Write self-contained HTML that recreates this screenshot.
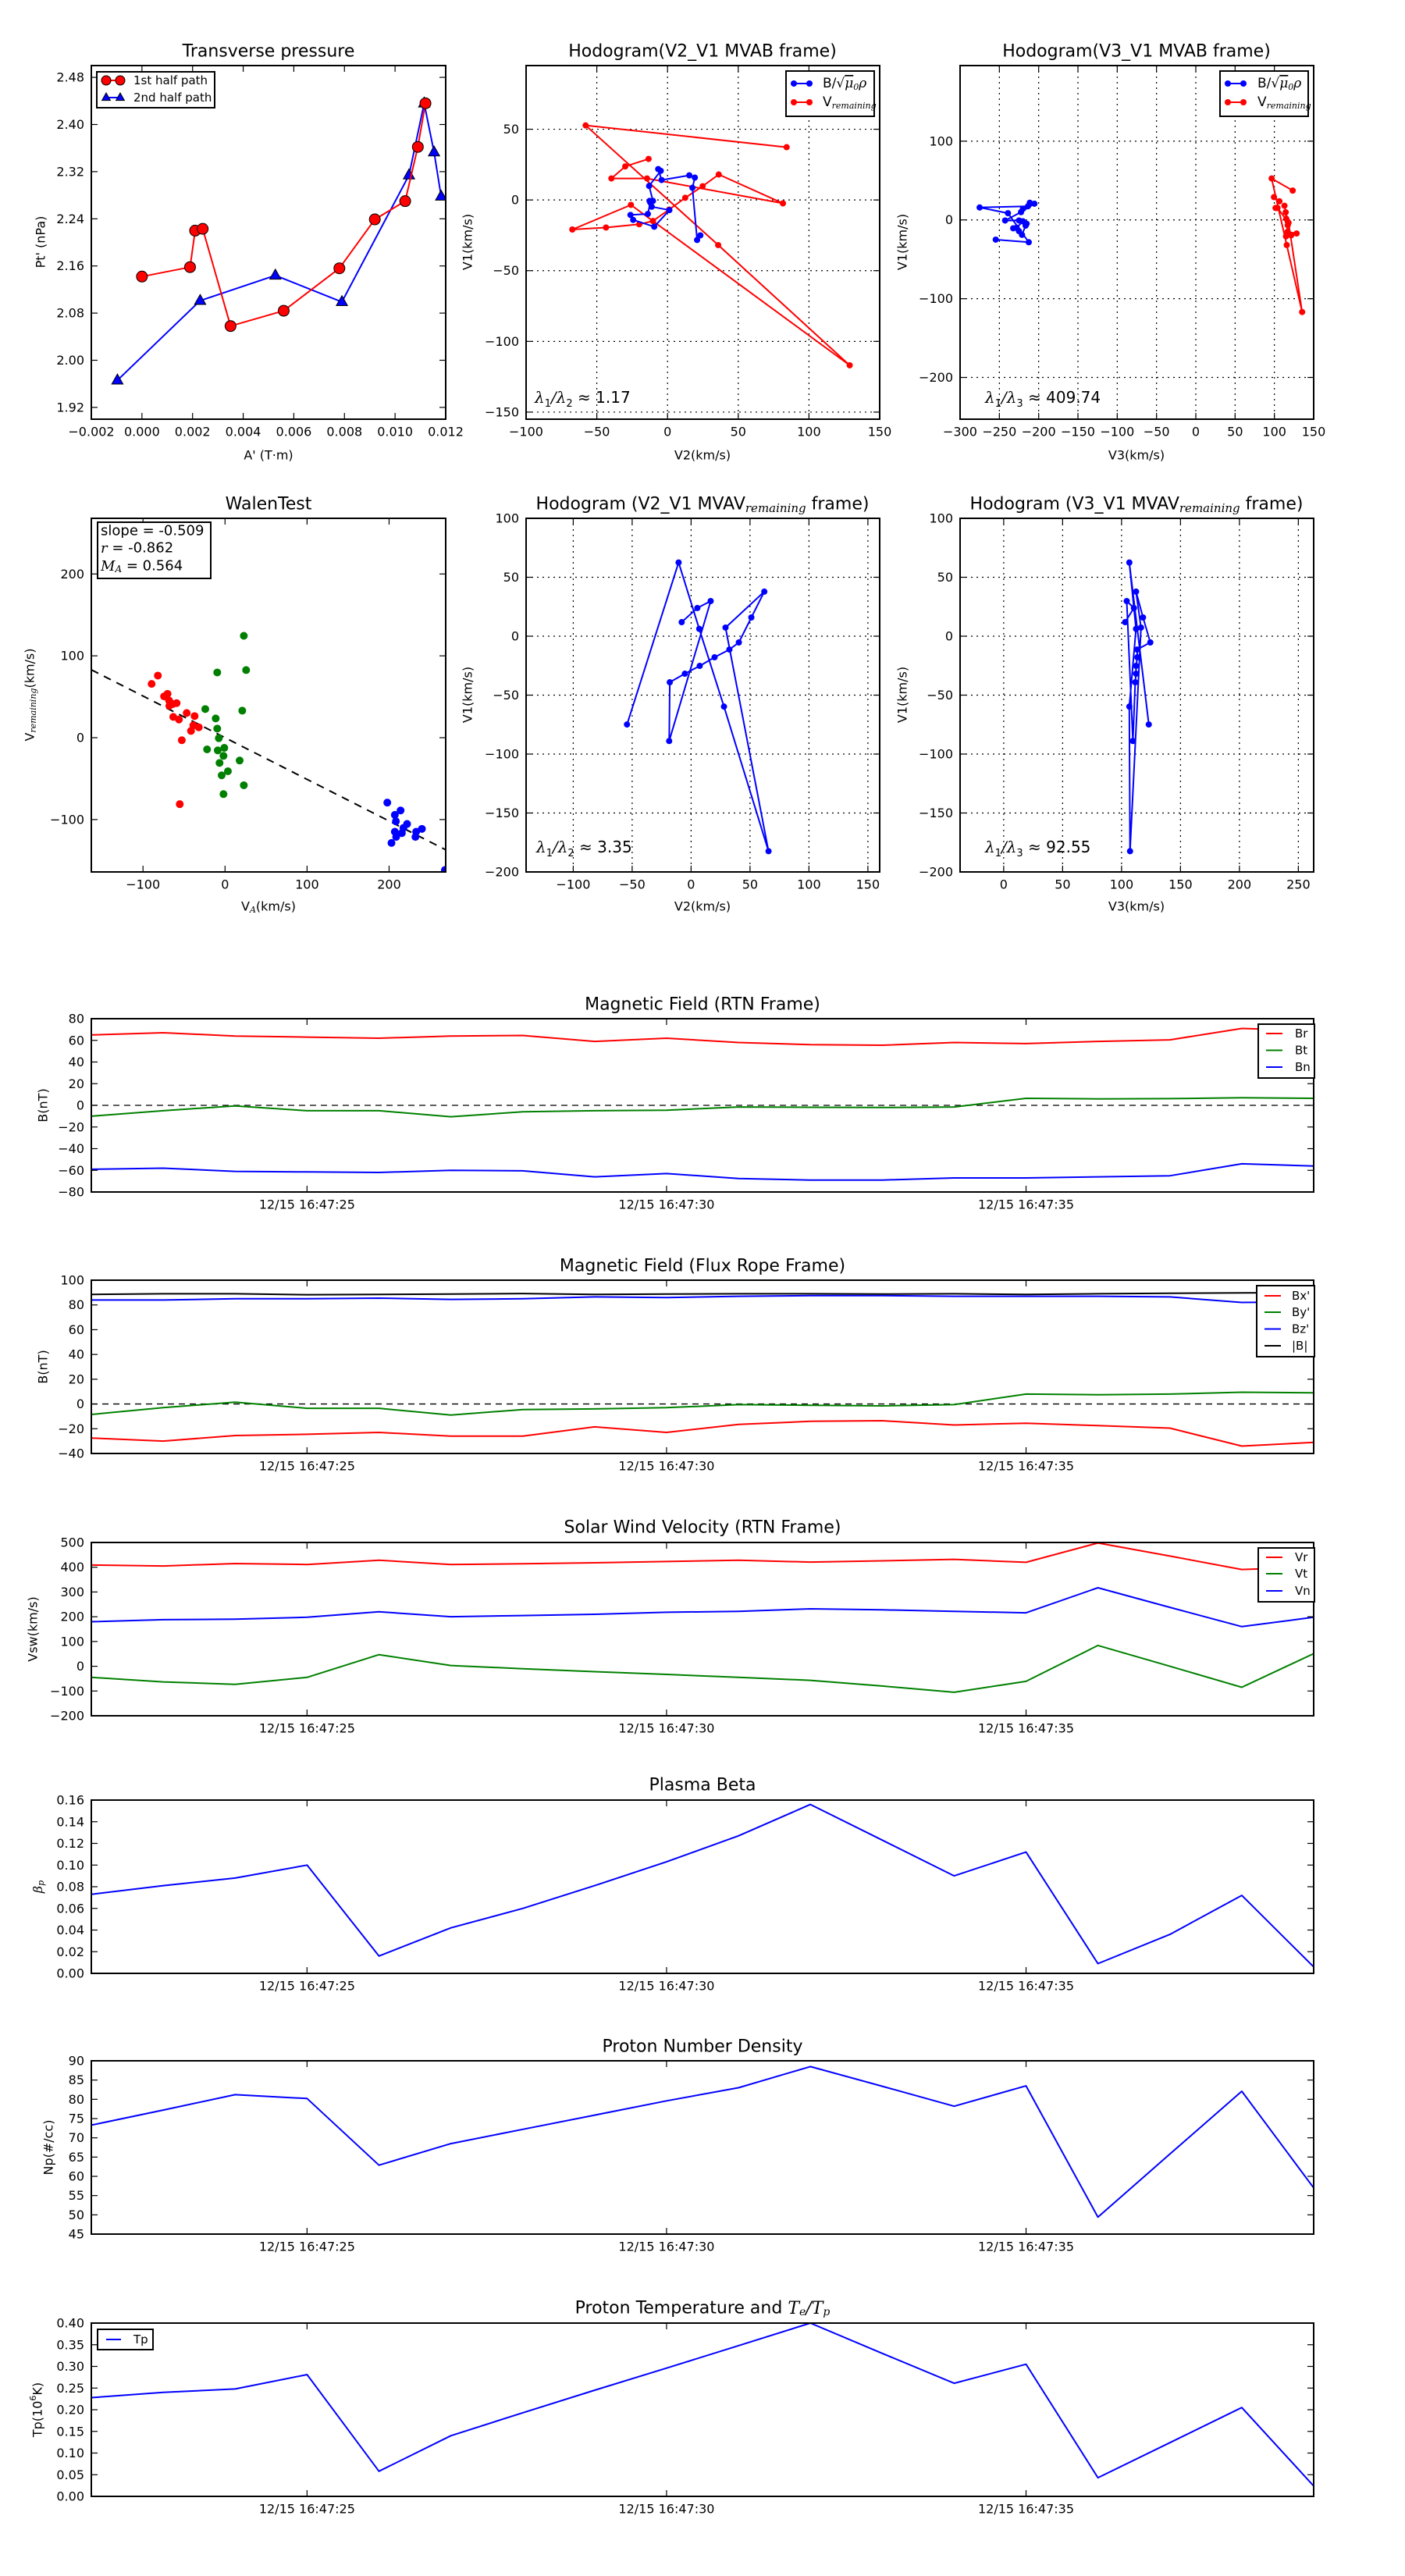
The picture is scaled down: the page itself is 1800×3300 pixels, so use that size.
<!DOCTYPE html>
<html><head><meta charset="utf-8"><title>Flux rope analysis</title>
<style>
html,body{margin:0;padding:0;background:#fff;}
svg{display:block;font-family:"DejaVu Sans","Liberation Sans",sans-serif;}
.ttl{font-size:22px;text-anchor:middle;dominant-baseline:central;}
.lbl{font-size:16px;text-anchor:middle;dominant-baseline:central;}
.leg{font-size:15px;dominant-baseline:central;}
.ann{font-size:20px;}
.it{font-family:"DejaVu Serif","Liberation Serif",serif;font-style:italic;}
</style></head>
<body>
<svg id="fig" xmlns="http://www.w3.org/2000/svg" width="1800" height="3300" viewBox="0 0 1800 3300">
<rect x="0" y="0" width="1800" height="3300" fill="#fff"/>
<defs id="defs"></defs>

<!-- Titles -->
<text class="ttl" x="344" y="66">Transverse pressure</text>
<text class="ttl" x="900" y="66">Hodogram(V2_V1 MVAB frame)</text>
<text class="ttl" x="1456" y="66">Hodogram(V3_V1 MVAB frame)</text>
<text class="ttl" x="344" y="646">WalenTest</text>
<text class="ttl" x="900" y="646">Hodogram (V2_V1 MVAV<tspan class="it" font-size="15" baseline-shift="-5">remaining</tspan> frame)</text>
<text class="ttl" x="1456" y="646">Hodogram (V3_V1 MVAV<tspan class="it" font-size="15" baseline-shift="-5">remaining</tspan> frame)</text>
<text class="ttl" x="900" y="1287">Magnetic Field (RTN Frame)</text>
<text class="ttl" x="900" y="1622">Magnetic Field (Flux Rope Frame)</text>
<text class="ttl" x="900" y="1957">Solar Wind Velocity (RTN Frame)</text>
<text class="ttl" x="900" y="2287">Plasma Beta</text>
<text class="ttl" x="900" y="2622">Proton Number Density</text>
<text class="ttl" x="900" y="2957">Proton Temperature and <tspan class="it">T</tspan><tspan class="it" font-size="14" baseline-shift="-5">e</tspan><tspan class="it">/T</tspan><tspan class="it" font-size="14" baseline-shift="-5">p</tspan></text>

<!-- Axis labels -->
<text class="lbl" x="344" y="583">A' (T·m)</text>
<text class="lbl" x="52" y="310" transform="rotate(-90 52 310)">Pt' (nPa)</text>
<text class="lbl" x="900" y="583">V2(km/s)</text>
<text class="lbl" x="599" y="310" transform="rotate(-90 599 310)">V1(km/s)</text>
<text class="lbl" x="1456" y="583">V3(km/s)</text>
<text class="lbl" x="1156" y="310" transform="rotate(-90 1156 310)">V1(km/s)</text>
<text class="lbl" x="344" y="1161">V<tspan font-size="11" baseline-shift="-4" class="it">A</tspan>(km/s)</text>
<text class="lbl" x="38" y="890" transform="rotate(-90 38 890)">V<tspan font-size="11" baseline-shift="-4" class="it">remaining</tspan>(km/s)</text>
<text class="lbl" x="900" y="1161">V2(km/s)</text>
<text class="lbl" x="599" y="890" transform="rotate(-90 599 890)">V1(km/s)</text>
<text class="lbl" x="1456" y="1161">V3(km/s)</text>
<text class="lbl" x="1156" y="890" transform="rotate(-90 1156 890)">V1(km/s)</text>
<text class="lbl" x="55" y="1416" transform="rotate(-90 55 1416)">B(nT)</text>
<text class="lbl" x="55" y="1751" transform="rotate(-90 55 1751)">B(nT)</text>
<text class="lbl" x="42" y="2087" transform="rotate(-90 42 2087)">Vsw(km/s)</text>
<text class="lbl" x="48" y="2417" transform="rotate(-90 48 2417)"><tspan class="it">β</tspan><tspan class="it" font-size="11" baseline-shift="-4">p</tspan></text>
<text class="lbl" x="62" y="2751" transform="rotate(-90 62 2751)">Np(#/cc)</text>
<text class="lbl" x="48" y="3087" transform="rotate(-90 48 3087)">Tp(10<tspan font-size="11" baseline-shift="6">6</tspan>K)</text>

<!-- Annotations -->
<text class="ann" x="685" y="516"><tspan class="it">λ</tspan><tspan font-size="13" baseline-shift="-5">1</tspan><tspan class="it">/λ</tspan><tspan font-size="13" baseline-shift="-5">2</tspan> ≈ 1.17</text>
<text class="ann" x="1262" y="516"><tspan class="it">λ</tspan><tspan font-size="13" baseline-shift="-5">1</tspan><tspan class="it">/λ</tspan><tspan font-size="13" baseline-shift="-5">3</tspan> ≈ 409.74</text>
<text class="ann" x="687" y="1092"><tspan class="it">λ</tspan><tspan font-size="13" baseline-shift="-5">1</tspan><tspan class="it">/λ</tspan><tspan font-size="13" baseline-shift="-5">2</tspan> ≈ 3.35</text>
<text class="ann" x="1262" y="1092"><tspan class="it">λ</tspan><tspan font-size="13" baseline-shift="-5">1</tspan><tspan class="it">/λ</tspan><tspan font-size="13" baseline-shift="-5">3</tspan> ≈ 92.55</text>
</svg>

<script>
// ---------- data ----------
// Transverse pressure
const ptA1 = [0.0000,0.0019,0.0021,0.0024,0.0035,0.0056,0.0078,0.0092,0.0104,0.0109,0.0112];
const ptP1 = [2.142,2.158,2.220,2.223,2.058,2.084,2.156,2.239,2.270,2.362,2.436];
const ptA2 = [-0.00097,0.0023,0.00527,0.0079,0.01055,0.01115,0.01154,0.01182];
const ptP2 = [1.966,2.101,2.144,2.099,2.314,2.436,2.353,2.278];
// MVAB hodograms
const mvabV2B = [23.2,20.9,17.6,19.3,15.4,-4.2,-6.6,-4.8,-13.0,-10.3,-12.7,-11.2,1.3,-9.4,-24.3,-26.2,-13.9,-12.2];
const mvabV1B = [-25.0,-28.3,8.6,15.8,17.4,14.1,21.8,20.6,9.9,-0.7,-0.7,-4.8,-7.2,-18.9,-14.1,-10.6,-9.9,-1.8];
const mvabV3B = [-254.6,-212.6,-239.1,-275.1,-213.6,-220,-211.3,-205.4,-222.5,-242.7,-225,-215.3,-216.6,-221.2,-225.2,-232.4,-228,-220];
const mvabV2V = [-13.4,-29.9,-39.7,-14.5,81.6,36.2,24.8,12.5,1.1,-10.3,-20.0,-43.5,-67.3,-25.9,128.8,35.8,-57.9,84.2];
const mvabV1V = [29.0,23.7,15.2,15.2,-2.4,18.0,9.7,1.5,-6.8,-14.9,-17.2,-19.5,-20.9,-3.5,-116.9,-31.9,52.7,37.3];
const mvabV3V = [99.5,106.4,101.5,104,117.1,112.8,114.4,115.1,117,116.7,128.3,121.4,114.8,118,135.3,115.7,96.5,123.3];
// MVAV hodograms
const mvavV2 = [-8.0,5.3,16.6,-18.6,-18.1,-5.3,7.3,19.9,32.5,40.5,51.1,62.1,29.2,65.7,27.9,6.9,-10.6,-54.4];
const mvavV1 = [11.9,23.9,29.8,-88.9,-39.1,-31.8,-25.2,-17.9,-11.3,-5.3,15.9,37.8,7.3,-182.4,-59.7,6.2,62.5,-74.9];
const mvavV3 = [103.0,110.5,104.4,109.6,111.6,112.3,112.3,113.4,113.2,124.4,118.2,112.3,116.5,107.2,106.6,112.3,106.6,123.1];
// Walen test
const walenRedVA = [-81.9,-89.5,-74.3,-70.1,-68.2,-59.0,-63.4,-67.9,-46.7,-37.1,-63.1,-56.2,-38.7,-32.0,-41.5,-52.7,-55.2];
const walenRedVR = [75.9,65.7,50.5,53.6,45.4,42.2,41.2,39.0,30.2,26.4,25.4,22.2,15.0,12.7,8.3,-3.1,-81.2];
const walenGreenVA = [22.9,-9.5,25.7,-24.1,21.0,-11.4,-9.5,-7.6,-21.9,-8.9,-0.9,-1.9,-6.7,17.8,3.5,-4.1,22.9,-1.9];
const walenGreenVR = [124.5,79.7,82.6,35.0,33.0,23.5,11.1,-0.6,-14.3,-15.5,-12.4,-22.2,-30.8,-27.9,-41.0,-46.0,-58.1,-68.9];
const walenBlueVA = [197.8,214.0,207.0,208.3,221.9,217.5,207.0,215.6,208.6,202.9,233.0,240.0,232.1,268];
const walenBlueVR = [-79.3,-88.9,-94.3,-102.2,-105.4,-110.2,-114.9,-116.5,-121.2,-128.6,-114.9,-111.4,-121.2,-161.6];
const walenSlope = -0.509;
const walenIntercept = 0;
// Time series (seconds after 16:47:00)
const tSec = [22,23,24,25,26,27,28,29,30,31,32,33,34,35,36,37,38,39];
const timeTickSec = [25,30,35];
const timeTickLabels = ['12/15 16:47:25','12/15 16:47:30','12/15 16:47:35'];
const Br = [65,67,64,63,62,64,64.5,59,62,58,56,55.5,58,57,59,60.5,71,69];
const Bt = [-10,-5,-0.5,-5,-5,-10.5,-6,-5,-4.5,-1.5,-1.8,-2,-1.5,6.5,6,6.2,7,6.5];
const Bn = [-59,-58,-61,-61.5,-62,-60,-60.5,-66,-63,-67.5,-69,-69,-67,-67,-66,-65,-54,-56];
const Bxp = [-27.5,-30,-25.5,-24.5,-23,-26,-26,-18.5,-23,-16.5,-14,-13.5,-17,-15.5,-17.5,-19.5,-34,-31];
const Byp = [-8.5,-3,1.5,-3.5,-3.5,-9,-4.5,-4,-3,-0.5,-1,-1.5,-0.5,8,7.5,8,9.5,9];
const Bzp = [84,84,85,85,85.5,84.5,85,86.5,86,87,87.5,87.5,87,87,87,86.5,82,82.5];
const Bmag = [88.5,89,89,88.3,88.5,88.8,89.2,88.5,88.8,89,89,88.8,89,88.5,89,89.5,89.7,90];
const Vr = [409,405,415,411,428,411,414,418,423,428,421,426,432,420,498,445,391,400];
const Vt = [-45,-63,-73,-45,47,3,-10,-22,-33,-45,-57,-80,-105,-61,84,0,-85,51];
const Vn = [180,188,190,198,220,200,205,210,218,222,232,228,222,216,317,238,160,198];
const betaP = [0.073,0.081,0.088,0.100,0.016,0.042,0.060,0.081,0.103,0.127,0.156,0.123,0.090,0.112,0.009,0.036,0.072,0.006];
const Np = [73.3,77.2,81.2,80.2,62.9,68.5,72.2,75.9,79.6,83,88.5,83.4,78.2,83.5,49.4,65.8,82.1,57];
const Tp = [0.228,0.240,0.248,0.281,0.058,0.140,0.193,0.245,0.296,0.348,0.400,0.330,0.261,0.305,0.043,0.124,0.205,0.024];

// ---------- helpers ----------
const NS = 'http://www.w3.org/2000/svg';
const svg = document.getElementById('fig');
const defs = document.getElementById('defs');
const RED='#ff0000', GREEN='#008000', BLUE='#0000ff';
function mk(tag, attrs, parent){
  const e = document.createElementNS(NS, tag);
  for (const k in attrs) e.setAttribute(k, attrs[k]);
  (parent || svg).appendChild(e);
  return e;
}
function fmt(v, d){ const s = Math.abs(v).toFixed(d); return (v < -1e-12 ? '\u2212' : '') + s; }
function range(a, b, s){ const r=[]; for (let v=a; v<=b+s*1e-6; v+=s) r.push(Math.round(v/s)*s); return r; }

function panel(name, x, y, w, h, xlim, ylim){
  const g = mk('g', {});
  
  
  const cp = mk('clipPath', {id: 'clip-' + name}, defs);
  mk('rect', {x:x, y:y, width:w, height:h}, cp);
  const sx = v => x + (v - xlim[0]) / (xlim[1] - xlim[0]) * w;
  const sy = v => y + h - (v - ylim[0]) / (ylim[1] - ylim[0]) * h;
  const grid = mk('g', {}, g);
  const plot = mk('g', {'clip-path': 'url(#clip-' + name + ')'}, g);
  const over = mk('g', {}, g);
  return {name, g, grid, plot, over, sx, sy, x, y, w, h};
}
function xTicks(p, vals, labels, gridOn){
  vals.forEach((v, i) => {
    const X = p.sx(v);
    if (gridOn) mk('line', {x1:X, x2:X, y1:p.y, y2:p.y+p.h, stroke:'#000', 'stroke-width':1.2, 'stroke-dasharray':'2,5'}, p.grid);
    mk('line', {x1:X, x2:X, y1:p.y+p.h, y2:p.y+p.h-8, stroke:'#000', 'stroke-width':1.2}, p.over);
    mk('line', {x1:X, x2:X, y1:p.y, y2:p.y+8, stroke:'#000', 'stroke-width':1.2}, p.over);
    const t = mk('text', {x:X, y:p.y+p.h+16, 'font-size':16, 'text-anchor':'middle', 'dominant-baseline':'central'}, p.over);
    
    
    t.textContent = labels[i];
  });
}
function yTicks(p, vals, labels, gridOn){
  vals.forEach((v, i) => {
    const Y = p.sy(v);
    if (gridOn) mk('line', {x1:p.x, x2:p.x+p.w, y1:Y, y2:Y, stroke:'#000', 'stroke-width':1.2, 'stroke-dasharray':'2,5'}, p.grid);
    mk('line', {x1:p.x, x2:p.x+8, y1:Y, y2:Y, stroke:'#000', 'stroke-width':1.2}, p.over);
    mk('line', {x1:p.x+p.w, x2:p.x+p.w-8, y1:Y, y2:Y, stroke:'#000', 'stroke-width':1.2}, p.over);
    const t = mk('text', {x:p.x-9, y:Y, 'font-size':16, 'text-anchor':'end', 'dominant-baseline':'central'}, p.over);
    
    
    t.textContent = labels[i];
  });
}
function frame(p){
  const r = mk('rect', {x:p.x, y:p.y, width:p.w, height:p.h, fill:'none', stroke:'#000', 'stroke-width':2}, p.over);
  
  
}
function series(p, xs, ys, color, name, marker, mr){
  const pts = xs.map((v, i) => p.sx(v).toFixed(1) + ',' + p.sy(ys[i]).toFixed(1)).join(' ');
  const pl = mk('polyline', {points:pts, fill:'none', stroke:color, 'stroke-width':2, 'stroke-linejoin':'round'}, p.plot);
  
  
  if (marker) xs.forEach((v, i) => { marks(p, v, ys[i], color, name, marker, mr); });
}
function marks(p, xv, yv, color, name, marker, mr){
  const X = p.sx(xv), Y = p.sy(yv);
  let m;
  if (marker === 'tri') {
    m = mk('polygon', {points:`${X},${Y-mr} ${X-mr*0.9},${Y+mr*0.6} ${X+mr*0.9},${Y+mr*0.6}`, fill:color, stroke:'#000', 'stroke-width':1}, p.plot);
  } else if (marker === 'circE') {
    m = mk('circle', {cx:X, cy:Y, r:mr, fill:color, stroke:'#000', 'stroke-width':1}, p.plot);
  } else {
    m = mk('circle', {cx:X, cy:Y, r:mr, fill:color}, p.plot);
  }
  
  
}
function legend(x, y, w, h, entries, lx1, lx2, tx, rows, markerType, mr){
  const g = mk('g', {});
  
  
  mk('rect', {x:x, y:y, width:w, height:h, fill:'#fff', stroke:'#000', 'stroke-width':2}, g);
  entries.forEach((e, i) => {
    const Y = rows[i];
    const ent = mk('g', {}, g);
    
    
    mk('line', {x1:lx1, x2:lx2, y1:Y, y2:Y, stroke:e.color, 'stroke-width':2}, ent);
    if (markerType) [lx1, lx2].forEach(X => {
      if (e.marker === 'tri') mk('polygon', {points:`${X},${Y-mr} ${X-mr*0.9},${Y+mr*0.6} ${X+mr*0.9},${Y+mr*0.6}`, fill:e.color, stroke:'#000', 'stroke-width':1}, ent);
      else mk('circle', {cx:X, cy:Y, r:mr, fill:e.color, stroke:(markerType==='edge'?'#000':'none'), 'stroke-width':1}, ent);
    });
    const t = mk('text', {x:tx, y:Y, 'font-size':e.fs || 15, 'dominant-baseline':'central'}, ent);
    t.innerHTML = e.label;
  });
}

// ---------- Transverse pressure ----------
{
  const p = panel('transverse-pressure-chart', 117, 84, 454, 453, [-0.002, 0.012], [1.9, 2.5]);
  const xv = range(-0.002, 0.012, 0.002), yv = range(1.92, 2.48, 0.08);
  xTicks(p, xv, xv.map(v => fmt(v, 3)), false);
  yTicks(p, yv, yv.map(v => fmt(v, 2)), false);
  series(p, ptA2, ptP2, BLUE, 'second-half-path', 'tri', 8);
  series(p, ptA1, ptP1, RED, 'first-half-path', 'circE', 7);
  frame(p);
  legend(124, 92, 151, 46, [
    {color:RED, label:'1st half path', marker:'circ'},
    {color:BLUE, label:'2nd half path', marker:'tri'}], 136, 154, 171, [103, 125], 'edge', 6);
}
// ---------- Hodogram MVAB V2-V1 ----------
const bLabel = 'B/√<tspan class="it" text-decoration="overline">μ</tspan><tspan font-size="11" baseline-shift="-4" class="it">0</tspan><tspan class="it">ρ</tspan>';
const vLabel = 'V<tspan class="it" font-size="11" baseline-shift="-4">remaining</tspan>';
{
  const p = panel('hodogram-v2-v1-mvab-chart', 674, 84, 453, 453, [-100, 150], [-155, 95]);
  const xv = range(-100, 150, 50), yv = range(-150, 50, 50);
  xTicks(p, xv, xv.map(v => fmt(v, 0)), true);
  yTicks(p, yv, yv.map(v => fmt(v, 0)), true);
  series(p, mvabV2V, mvabV1V, RED, 'v-remaining', 'circ', 4);
  series(p, mvabV2B, mvabV1B, BLUE, 'b-alfven', 'circ', 4);
  frame(p);
  legend(1007, 91, 113, 58, [{color:BLUE, label:bLabel, fs:17}, {color:RED, label:vLabel, fs:17}], 1017, 1037, 1054, [107, 131], 'plain', 4);
}
// ---------- Hodogram MVAB V3-V1 ----------
{
  const p = panel('hodogram-v3-v1-mvab-chart', 1230, 84, 453, 453, [-300, 150], [-253, 196]);
  const xv = range(-300, 150, 50), yv = range(-200, 100, 100);
  xTicks(p, xv, xv.map(v => fmt(v, 0)), true);
  yTicks(p, yv, yv.map(v => fmt(v, 0)), true);
  series(p, mvabV3V, mvabV1V, RED, 'v-remaining', 'circ', 4);
  series(p, mvabV3B, mvabV1B, BLUE, 'b-alfven', 'circ', 4);
  frame(p);
  legend(1563, 91, 113, 58, [{color:BLUE, label:bLabel, fs:17}, {color:RED, label:vLabel, fs:17}], 1573, 1593, 1611, [107, 131], 'plain', 4);
}
// ---------- Walen test ----------
{
  const p = panel('walen-test-chart', 117, 664, 454, 453, [-163, 269], [-164, 268]);
  const xv = [-100, 0, 100, 200], yv = [-100, 0, 100, 200];
  xTicks(p, xv, xv.map(v => fmt(v, 0)), false);
  yTicks(p, yv, yv.map(v => fmt(v, 0)), false);
  const fitX = [-163, 269];
  const fitY = fitX.map(v => walenSlope * v + walenIntercept);
  const fl = mk('line', {x1:p.sx(fitX[0]), y1:p.sy(fitY[0]), x2:p.sx(fitX[1]), y2:p.sy(fitY[1]), stroke:'#000', 'stroke-width':2, 'stroke-dasharray':'10,8'}, p.plot);
  
  
  walenRedVA.forEach((v, i) => marks(p, v, walenRedVR[i], RED, 'walen-red', 'circ', 5));
  walenGreenVA.forEach((v, i) => marks(p, v, walenGreenVR[i], GREEN, 'walen-green', 'circ', 5));
  walenBlueVA.forEach((v, i) => marks(p, v, walenBlueVR[i], BLUE, 'walen-blue', 'circ', 5));
  frame(p);
  const box = mk('g', {});
  
  
  mk('rect', {x:125, y:669, width:145, height:72, fill:'#fff', stroke:'#000', 'stroke-width':2}, box);
  const t1 = mk('text', {x:129, y:680, 'font-size':18, 'dominant-baseline':'central'}, box);
  t1.textContent = 'slope = -0.509';
  const t2 = mk('text', {x:129, y:702, 'font-size':18, 'dominant-baseline':'central'}, box);
  t2.innerHTML = '<tspan class="it">r</tspan> = -0.862';
  const t3 = mk('text', {x:129, y:725, 'font-size':18, 'dominant-baseline':'central'}, box);
  t3.innerHTML = '<tspan class="it">M</tspan><tspan class="it" font-size="12" baseline-shift="-4">A</tspan> = 0.564';
}
// ---------- Hodogram MVAV V2-V1 ----------
{
  const p = panel('hodogram-v2-v1-mvav-chart', 674, 664, 453, 453, [-140, 160], [-200, 100]);
  const xv = range(-100, 150, 50), yv = range(-200, 100, 50);
  xTicks(p, xv, xv.map(v => fmt(v, 0)), true);
  yTicks(p, yv, yv.map(v => fmt(v, 0)), true);
  series(p, mvavV2, mvavV1, BLUE, 'mvav-v2-v1', 'circ', 4);
  frame(p);
}
// ---------- Hodogram MVAV V3-V1 ----------
{
  const p = panel('hodogram-v3-v1-mvav-chart', 1230, 664, 453, 453, [-37, 263], [-200, 100]);
  const xv = range(0, 250, 50), yv = range(-200, 100, 50);
  xTicks(p, xv, xv.map(v => fmt(v, 0)), true);
  yTicks(p, yv, yv.map(v => fmt(v, 0)), true);
  series(p, mvavV3, mvavV1, BLUE, 'mvav-v3-v1', 'circ', 4);
  frame(p);
}
// ---------- Time series ----------
function timePanel(name, top, ylim, yv, dec, lines, zero){
  const p = panel(name, 117, top, 1566, 222, [22, 39], ylim);
  xTicks(p, timeTickSec, timeTickLabels, false);
  yTicks(p, yv, yv.map(v => fmt(v, dec)), false);
  if (zero) {
    const z = mk('line', {x1:p.x, x2:p.x+p.w, y1:p.sy(0), y2:p.sy(0), stroke:'#000', 'stroke-width':1.3, 'stroke-dasharray':'8,6'}, p.plot);
    
    
  }
  lines.forEach(l => series(p, tSec, l.data, l.color, l.name, null, 0));
  frame(p);
  return p;
}
timePanel('magnetic-field-rtn-chart', 1305, [-80, 80], range(-80, 80, 20), 0,
  [{data:Br, color:RED, name:'br'}, {data:Bt, color:GREEN, name:'bt'}, {data:Bn, color:BLUE, name:'bn'}], true);
legend(1612, 1312, 72, 69, [{color:RED, label:'Br'}, {color:GREEN, label:'Bt'}, {color:BLUE, label:'Bn'}], 1622, 1643, 1659, [1324, 1345.5, 1367], null, 0);

timePanel('magnetic-field-flux-rope-chart', 1640, [-40, 100], range(-40, 100, 20), 0,
  [{data:Bxp, color:RED, name:'bx-prime'}, {data:Byp, color:GREEN, name:'by-prime'}, {data:Bzp, color:BLUE, name:'bz-prime'}, {data:Bmag, color:'#000', name:'b-magnitude'}], true);
legend(1610, 1647, 74, 91, [{color:RED, label:"Bx'"}, {color:GREEN, label:"By'"}, {color:BLUE, label:"Bz'"}, {color:'#000', label:'|B|'}], 1620, 1641, 1655, [1660, 1681, 1702.5, 1724], null, 0);

timePanel('solar-wind-velocity-chart', 1976, [-200, 500], range(-200, 500, 100), 0,
  [{data:Vr, color:RED, name:'vr'}, {data:Vt, color:GREEN, name:'vt'}, {data:Vn, color:BLUE, name:'vn'}], false);
legend(1612, 1983, 72, 69, [{color:RED, label:'Vr'}, {color:GREEN, label:'Vt'}, {color:BLUE, label:'Vn'}], 1622, 1643, 1659, [1995, 2016, 2038], null, 0);

timePanel('plasma-beta-chart', 2306, [0, 0.16], range(0, 0.16, 0.02), 2,
  [{data:betaP, color:BLUE, name:'beta-p'}], false);

timePanel('proton-density-chart', 2640, [45, 90], range(45, 90, 5), 0,
  [{data:Np, color:BLUE, name:'np'}], false);

timePanel('proton-temperature-chart', 2976, [0, 0.4], range(0, 0.4, 0.05), 2,
  [{data:Tp, color:BLUE, name:'tp'}], false);
legend(125, 2984, 71, 26, [{color:BLUE, label:'Tp'}], 136, 155, 171, [2997], null, 0);
</script>
</body></html>
